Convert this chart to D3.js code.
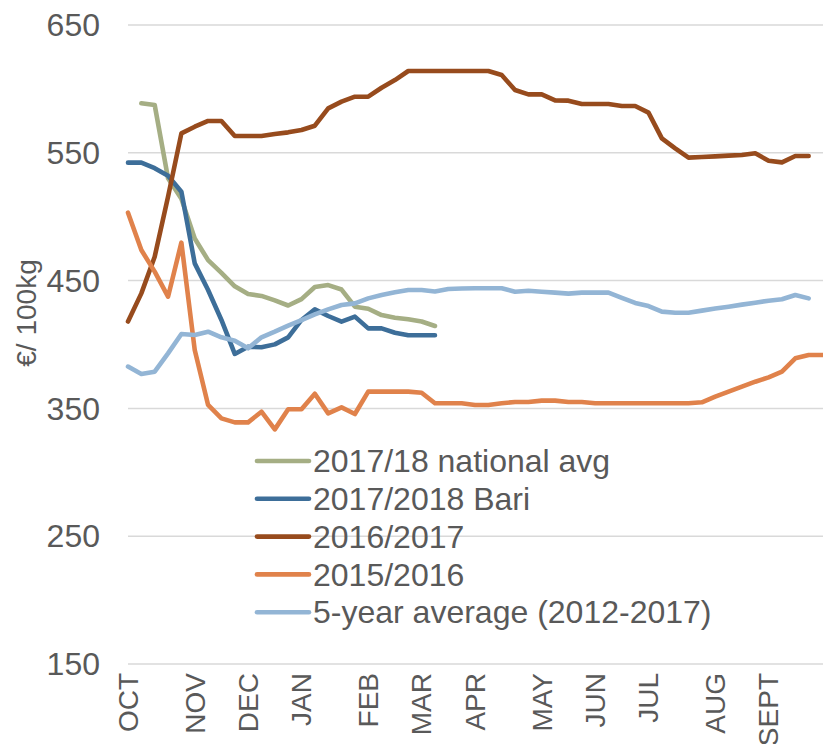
<!DOCTYPE html>
<html>
<head>
<meta charset="utf-8">
<script src="https://cdn.jsdelivr.net/npm/d3@7"></script>
<style>
  html, body { margin: 0; padding: 0; background: #fff; }
  svg { display: block; font-family: "Liberation Sans", Arial, sans-serif; }
</style>
</head>
<body>
<svg id="chart" width="823" height="744"></svg>
<script>
// ---- data ----
const categories = [
  "OCT","","","","",
  "NOV","","","",
  "DEC","","","",
  "JAN","","","","",
  "FEB","","","",
  "MAR","","","",
  "APR","","","","",
  "MAY","","","",
  "JUN","","","",
  "JUL","","","","",
  "AUG","","","",
  "SEPT","","","",""
];

const yTicks = [150, 250, 350, 450, 550, 650];

const national1718 = [null, 588.7, 587.4, 530, 514, 483, 466, 456, 445.5, 439.5,
  438, 434.5, 430.5, 435.5, 445, 446.5, 443, 429.6, 428, 423,
  421, 419.7, 418, 414.5];

const bari1718 = [542.3, 542.3, 538, 532, 519.6, 463.5, 442.6, 419.2, 392.6, 398.3,
  397.8, 400.1, 405.6, 419.2, 427.5, 422.3, 417.9, 421.8, 412.6, 412.6,
  409.2, 407.2, 407.2, 407.2];

const s1617 = [418, 440, 468.7, 515.7, 565.2, 570.4, 574.9, 574.9, 563.1, 563.1,
  563.1, 564.7, 566, 567.8, 571.2, 584.8, 590, 593.9, 593.9, 600.9,
  606.9, 614, 614, 614, 614, 614, 614, 614, 610.9, 599.1,
  595.7, 595.7, 591, 590.8, 588.2, 588.2, 588.2, 586.6, 586.6, 581.4,
  561.3, 553.5, 546.2, 546.7, 547.2, 547.8, 548.3, 549.6, 543.8, 542.5,
  547.5, 547.5];

const s1516 = [503.1, 473.9, 457, 437.4, 479.7, 395.7, 352.7, 342.2, 339.1, 339.1,
  347.4, 333.6, 349.3, 349.3, 361.5, 346.1, 350.8, 345.6, 363.1, 363.1,
  363.1, 363.1, 362.3, 354, 354, 354, 352.7, 352.7, 354, 355,
  355, 356.1, 356.1, 355, 355, 354, 354, 354, 354, 354,
  354, 354, 354, 354.8, 359.2, 363.1, 367, 370.9, 374.3, 378.7,
  389.2, 391.8, 391.8];

const avg5y = [382.7, 376.9, 378.7, 393.1, 408.2, 407.4, 410, 405.6, 403, 397,
  405.6, 410, 414.7, 419, 423.5, 427.5, 430.9, 432.2, 436.1, 438.7,
  440.8, 442.6, 442.6, 441.5, 443.4, 443.8, 444, 444, 444, 441.3,
  442.1, 441.3, 440.6, 439.8, 440.6, 440.6, 440.6, 436.5, 432.5, 430.1,
  425.7, 424.9, 424.9, 426.5, 428.1, 429.6, 431.2, 432.7, 434.3, 435.4,
  438.7, 436.1];

const seriesNames = ["2017/18 national avg", "2017/2018 Bari", "2016/2017", "2015/2016", "5-year average (2012-2017)"];
const seriesValues = [national1718, bari1718, s1617, s1516, avg5y];
const seriesColors = ["#A5AE84", "#3D6E99", "#974B1D", "#E0824B", "#93B5D5"];
const yTitle = "€/ 100kg";

// ---- layout ----
const svg = d3.select("#chart");
const textColor = "#595959";
const plotLeft = 128, plotRight = 822, plotTop = 25, plotBottom = 664;

const x = d3.scalePoint().domain(d3.range(categories.length)).range([plotLeft, plotRight]);
const y = d3.scaleLinear().domain([150, 650]).range([plotBottom, plotTop]);

// gridlines
svg.append("g").selectAll("line").data(yTicks).join("line")
  .attr("x1", plotLeft).attr("x2", 823)
  .attr("y1", d => y(d)).attr("y2", d => y(d))
  .attr("stroke", "#D9D9D9").attr("stroke-width", 1.5);

// y tick labels
svg.append("g").selectAll("text").data(yTicks).join("text")
  .attr("x", 100).attr("y", d => y(d))
  .attr("dy", "0.35em")
  .attr("text-anchor", "end")
  .attr("font-size", 32)
  .attr("fill", textColor)
  .text(d => d);

// x labels
const labelled = categories.map((c, i) => ({ c, i })).filter(d => d.c !== "");
svg.append("g").selectAll("text").data(labelled).join("text")
  .attr("transform", d => `translate(${x(d.i)},673) rotate(-90)`)
  .attr("dy", "0.35em")
  .attr("text-anchor", "end")
  .attr("font-size", 28)
  .attr("fill", textColor)
  .text(d => d.c);

// y title
svg.append("text")
  .attr("transform", "translate(26,313) rotate(-90)")
  .attr("dy", "0.35em")
  .attr("text-anchor", "middle")
  .attr("font-size", 28)
  .attr("fill", textColor)
  .text(yTitle);

// lines
const line = d3.line()
  .defined(d => d != null)
  .x((d, i) => x(i))
  .y(d => y(d));

seriesValues.forEach((vals, k) => {
  svg.append("path")
    .datum(vals)
    .attr("d", line)
    .attr("fill", "none")
    .attr("stroke", seriesColors[k])
    .attr("stroke-width", 4.6)
    .attr("stroke-linejoin", "round")
    .attr("stroke-linecap", "round");
});

// legend
const lg = svg.append("g");
seriesNames.forEach((name, k) => {
  const ly = 461 + k * 37.8;
  lg.append("line")
    .attr("x1", 257).attr("x2", 309)
    .attr("y1", ly).attr("y2", ly)
    .attr("stroke", seriesColors[k])
    .attr("stroke-width", 4.6)
    .attr("stroke-linecap", "round");
  lg.append("text")
    .attr("x", 313).attr("y", ly)
    .attr("dy", "0.35em")
    .attr("font-size", 32)
    .attr("fill", textColor)
    .text(name);
});
</script>
</body>
</html>
